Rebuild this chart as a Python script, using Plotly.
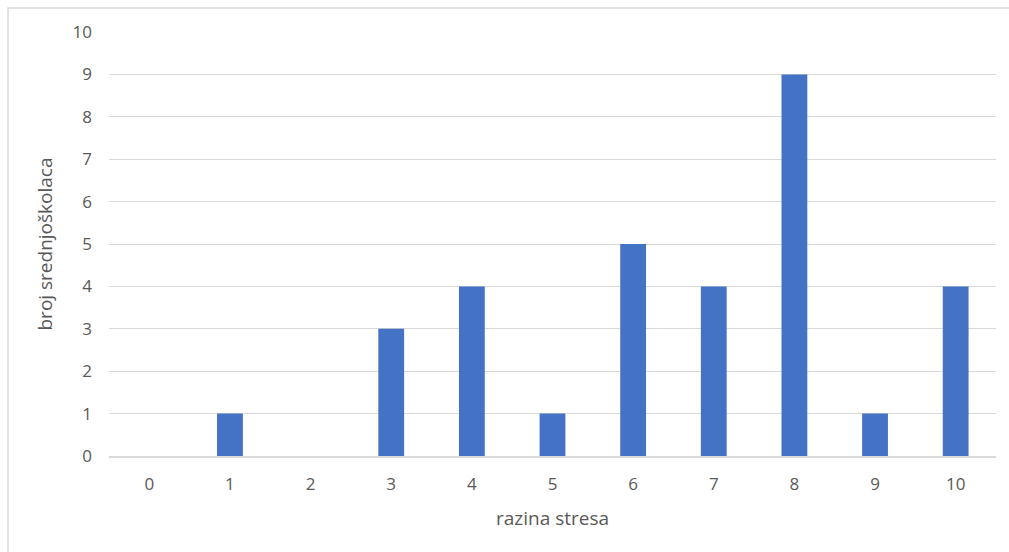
import plotly.graph_objects as go

# Stress level survey: number of high-school students per stress level
stress_levels = ["0", "1", "2", "3", "4", "5", "6", "7", "8", "9", "10"]
student_counts = [0, 1, 0, 3, 4, 1, 5, 4, 9, 1, 4]
y_ticks = list(range(0, 11))

W, H = 1009, 552
L, R, T, B = 109, 13, 32, 96
plot_w = W - L - R
plot_h = H - T - B


def px_to_paper_x(px):
    return (px - L) / plot_w


def px_to_paper_y(py):
    return (H - B - py) / plot_h


fig = go.Figure(
    go.Bar(
        x=stress_levels,
        y=student_counts,
        marker=dict(color="#4472C4", line=dict(width=0)),
        hoverinfo="x+y",
    )
)

font_family = "Open Sans, Liberation Sans, sans-serif"
text_grey = "#595959"

fig.update_layout(
    width=W,
    height=H,
    margin=dict(l=L, r=R, t=T, b=B),
    paper_bgcolor="white",
    plot_bgcolor="white",
    bargap=0.68,
    showlegend=False,
    font=dict(family=font_family, color=text_grey, size=17),
    xaxis=dict(
        type="category",
        showgrid=False,
        showline=True,
        linecolor="#d9d9d9",
        linewidth=1.5,
        ticks="",
        ticklabelstandoff=12,
        tickfont=dict(size=17, color=text_grey),
        title=dict(text="razina stresa", font=dict(size=19, color=text_grey), standoff=18),
    ),
    yaxis=dict(
        range=[0, 10],
        tickvals=y_ticks,
        showgrid=True,
        gridcolor="#d9d9d9",
        gridwidth=1,
        zeroline=False,
        showline=False,
        ticks="",
        ticklabelstandoff=16,
        tickfont=dict(size=17, color=text_grey),
        title=dict(text="broj srednjoškolaca", font=dict(size=19, color=text_grey), standoff=14),
    ),
    shapes=[
        dict(
            type="rect",
            xref="paper",
            yref="paper",
            x0=px_to_paper_x(8),
            x1=px_to_paper_x(1020),
            y0=px_to_paper_y(570),
            y1=px_to_paper_y(8),
            line=dict(color="#d9d9d9", width=1.5),
            fillcolor="rgba(0,0,0,0)",
            layer="below",
        )
    ],
)

fig.write_html("out.html")
